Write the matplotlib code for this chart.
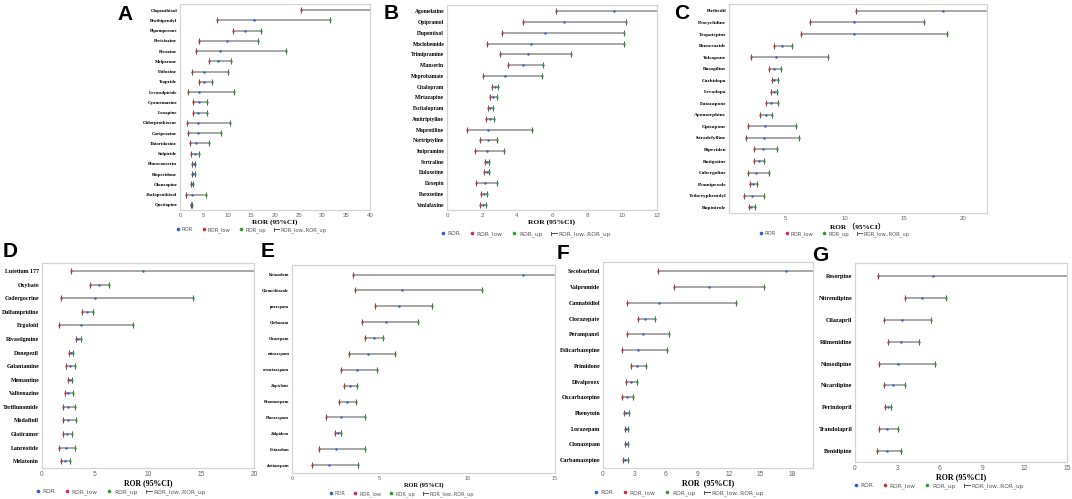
import matplotlib.pyplot as plt
from matplotlib.lines import Line2D
from matplotlib.legend_handler import HandlerBase

# ---- data ----
a_drugs = ['Clopenthixol', 'Prothipendyl', 'Pipamperone', 'Periciazine', 'Perazine', 'Melperone',
           'Etifoxine', 'Tiapride', 'Levosulpiride', 'Cyamemazine', 'Loxapine', 'Chlorprothixene',
           'Cariprazine', 'Thioridazine', 'Sulpiride', 'Pimavanserin', 'Risperidone', 'Olanzapine',
           'Zuclopenthixol', 'Quetiapine']
a_ror = [45, 15.6, 13.7, 9.8, 8.4, 8.1, 5.1, 5.0, 4.1, 3.9, 3.8, 3.7, 3.7, 3.4, 3.2, 2.9, 2.8, 2.5, 2.5, 2.4]
a_low = [25.4, 7.8, 11.1, 3.9, 3.3, 6.1, 2.6, 3.9, 1.6, 2.7, 2.7, 1.4, 1.7, 2.0, 2.3, 2.6, 2.5, 2.3, 1.3, 2.25]
a_up = [90, 31.5, 17.0, 16.4, 22.3, 10.8, 10.2, 6.7, 11.4, 5.7, 5.6, 10.5, 8.7, 6.0, 4.1, 3.2, 3.1, 2.8, 5.4, 2.6]

b_drugs = ['Agomelatine', 'Opipramol', 'Flupentixol', 'Moclobemide', 'Trimipramine', 'Mianserin',
           'Meprobamate', 'Citalopram', 'Mirtazapine', 'Escitalopram', 'Amitriptyline', 'Maprotiline',
           'Nortriptyline', 'Imipramine', 'Sertraline', 'Duloxetine', 'Doxepin', 'Paroxetine', 'Venlafaxine']
b_ror = [9.52, 6.67, 5.6, 4.82, 4.6, 4.36, 3.33, 2.72, 2.63, 2.48, 2.44, 2.34, 2.32, 2.3, 2.29, 2.27, 2.19, 2.1, 2.06]
b_low = [6.23, 4.34, 3.12, 2.29, 3.0, 3.49, 2.08, 2.55, 2.44, 2.32, 2.23, 1.14, 1.9, 1.62, 2.19, 2.1, 1.68, 1.92, 1.89]
b_up = [14.5, 10.25, 10.1, 10.1, 7.09, 5.47, 5.45, 2.93, 2.86, 2.65, 2.67, 4.86, 2.84, 3.24, 2.4, 2.38, 2.86, 2.27, 2.23]

c_drugs = ['Piribedil', 'Procyclidine', 'Tropatepine', 'Benserazide', 'Tolcapone', 'Rasagiline',
           'Carbidopa', 'Levodopa', 'Entacapone', 'Apomorphine', 'Opicapone', 'Istradefylline',
           'Biperiden', 'Rotigotine', 'Cabergoline', 'Pramipexole', 'Trihexyphenidyl', 'Ropinirole']
c_ror = [18.3, 10.8, 10.76, 4.66, 4.16, 4.04, 4.04, 4.02, 3.79, 3.29, 3.26, 3.12, 3.09, 2.7, 2.47, 2.22, 2.13, 2.1]
c_low = [10.9, 7.05, 6.3, 3.99, 2.02, 3.54, 3.82, 3.79, 3.34, 2.84, 1.83, 1.6, 2.28, 2.28, 1.77, 2.0, 1.49, 1.88]
c_up = [30, 16.7, 18.6, 5.5, 8.57, 4.63, 4.3, 4.27, 4.3, 3.82, 5.84, 6.15, 4.27, 3.12, 3.54, 2.53, 3.12, 2.39]

d_drugs = ['Lutetium 177', 'Oxybate', 'Codergocrine', 'Dalfampridine', 'Ergoloid', 'Rivastigmine',
           'Donepezil', 'Galantamine', 'Memantine', 'Valbenazine', 'Teriflunomide', 'Modafinil',
           'Glatiramer', 'Lanreotide', 'Melatonin']
d_ror = [9.54, 5.35, 5.0, 4.28, 3.69, 3.43, 2.71, 2.65, 2.65, 2.49, 2.49, 2.46, 2.39, 2.27, 2.2]
d_low = [2.7, 4.57, 1.76, 3.81, 1.6, 3.21, 2.55, 2.27, 2.46, 2.14, 2.02, 1.95, 2.02, 1.64, 1.83]
d_up = [30, 6.3, 14.27, 4.82, 8.54, 3.69, 2.9, 3.15, 2.83, 2.9, 3.09, 3.18, 2.8, 3.15, 2.68]

e_drugs = ['Ketazolam', 'Clomethiazole', 'prazepam', 'Clobazam', 'Oxazepam', 'nitrazepam',
           'ormetazepam', 'Zopiclone', 'Bromazepam', 'Flurazepam', 'Zolpidem', 'Estazolam', 'clotiazepam']
e_ror = [13.16, 6.27, 6.13, 5.35, 4.65, 4.34, 3.71, 3.3, 3.12, 2.82, 2.63, 2.5, 2.1]
e_low = [3.49, 3.62, 4.74, 4.0, 4.17, 3.24, 2.82, 2.99, 2.69, 1.94, 2.46, 1.52, 1.16]
e_up = [25, 10.86, 8.0, 7.16, 5.2, 5.85, 4.86, 3.68, 3.66, 4.15, 2.8, 4.19, 3.77]

f_drugs = ['Secobarbital', 'Valpromide', 'Cannabidiol', 'Clorazepate', 'Perampanel', 'Eslicarbazepine',
           'Primidone', 'Divalproex', 'Oxcarbazepine', 'Phenytoin', 'Lorazepam', 'Clonazepam', 'Carbamazepine']
f_ror = [17.43, 10.13, 5.37, 4.03, 3.78, 3.3, 3.27, 2.63, 2.29, 2.22, 2.22, 2.19, 2.1]
f_low = [5.27, 6.73, 2.32, 3.33, 2.32, 1.81, 2.63, 2.22, 1.84, 2.0, 2.1, 2.06, 1.9]
f_up = [40, 15.33, 12.67, 4.92, 6.32, 6.1, 4.06, 3.21, 2.83, 2.48, 2.38, 2.38, 2.38]

g_drugs = ['Reserpine', 'Nitrendipine', 'Cilazapril', 'Rilmenidine', 'Nimodipine', 'Nicardipine',
           'Perindopril', 'Trandolapril', 'Benidipine']
g_ror = [5.53, 4.76, 3.34, 3.25, 3.06, 2.66, 2.31, 2.26, 2.26]
g_low = [1.65, 3.56, 2.07, 2.35, 1.67, 2.02, 2.12, 1.72, 1.58]
g_up = [20, 6.43, 5.39, 4.54, 5.63, 3.51, 2.54, 3.04, 3.27]

W, H = 1072, 499
fig = plt.figure(figsize=(W / 100, H / 100), dpi=100)

C_ROR = '#2f5fd0'
C_LOW = '#d0303a'
C_UP = '#2ca02c'
SERIF = 'Liberation Serif'
SANS = 'Liberation Sans'


class RangeHandler(HandlerBase):
    # legend key "|----" for the low..up range
    def create_artists(self, legend, orig, xd, yd, width, height, fontsize, trans):
        x0, x1 = -xd, -xd + width
        ym = -yd + height / 2
        line = Line2D([x0, x1], [ym, ym], color='#555555', lw=0.7, transform=trans)
        cap = Line2D([x0, x0], [ym - height * 0.35, ym + height * 0.35], color='#555555',
                     lw=0.7, transform=trans)
        return [line, cap]


def px_axes(x0, y0, x1, y1):
    return fig.add_axes([x0 / W, 1 - y1 / H, (x1 - x0) / W, (y1 - y0) / H])


def forest(box, drugs, ror, low, up, xlim, xticks, lab_fs, tick_fs, xlabel, xl_fs,
           leg_xy, leg_fs, letter, letter_xy):
    ax = px_axes(*box)
    y = list(range(len(drugs)))
    ax.hlines(y, low, up, color='#8f8f8f', lw=1.1, zorder=1)
    ax.plot(low, y, '|', color='#555555', ms=4, mew=0.7, zorder=2)
    ax.plot(up, y, '|', color='#555555', ms=4, mew=0.7, zorder=2)
    ax.scatter(low, y, s=3, color=C_LOW, zorder=3, linewidths=0)
    ax.scatter(up, y, s=3, color=C_UP, zorder=3, linewidths=0)
    ax.scatter(ror, y, s=3, color=C_ROR, zorder=3, linewidths=0)

    ax.set_xlim(*xlim)
    ax.set_ylim(len(drugs) - 0.5, -0.6)
    ax.set_xticks(xticks)
    ax.set_yticks(y)
    ax.set_yticklabels(drugs, fontfamily=SERIF, fontweight='bold', fontsize=lab_fs)
    ax.tick_params(axis='y', length=0, pad=2)
    ax.tick_params(axis='x', length=0, pad=2, labelsize=tick_fs, labelcolor='#666666')
    for lbl in ax.get_xticklabels():
        lbl.set_fontfamily(SANS)
    for s in ax.spines.values():
        s.set_color('#d4d4d4')
        s.set_linewidth(0.9)
    ax.set_xlabel(xlabel, fontsize=xl_fs, fontweight='bold',
                  fontfamily=[SERIF, 'Noto Sans CJK SC'], labelpad=1)

    rng = Line2D([], [], color='#555555')
    handles = [
        Line2D([], [], ls='none', marker='o', ms=1.6, color=C_ROR),
        Line2D([], [], ls='none', marker='o', ms=1.6, color=C_LOW),
        Line2D([], [], ls='none', marker='o', ms=1.6, color=C_UP),
        rng,
    ]
    ax.legend(handles, ['ROR', 'ROR_low', 'ROR_up', 'ROR_low..ROR_up'],
              handler_map={rng: RangeHandler()},
              loc='center left', bbox_to_anchor=(leg_xy[0] / W, 1 - leg_xy[1] / H),
              bbox_transform=fig.transFigure, ncol=4, frameon=False, fontsize=leg_fs,
              handlelength=1.0, handletextpad=0.3, columnspacing=1.5, labelcolor='#555555',
              borderpad=0, borderaxespad=0)

    fig.text(letter_xy[0] / W, 1 - letter_xy[1] / H, letter, fontsize=15, fontweight='bold',
             fontfamily=SANS, ha='left', va='top')
    return ax


forest((180, 4, 370, 210), a_drugs, a_ror, a_low, a_up, (0, 40), range(0, 41, 5),
       3.5, 4.3, 'ROR (95%CI)', 5.2, (175, 230), 3.8, 'A', (117, 5))
forest((447, 5, 657, 210), b_drugs, b_ror, b_low, b_up, (0, 12), range(0, 13, 2),
       4.0, 4.5, 'ROR (95%CI)', 5.4, (440, 234), 4.2, 'B', (384, 4))
forest((729, 4, 987, 213), c_drugs, c_ror, c_low, c_up, (0.2, 22), [5, 10, 15, 20],
       3.8, 4.3, 'ROR \uff0895%CI\uff09', 5.2, (758, 234), 3.8, 'C', (674, 4))
forest((42, 263, 254, 468), d_drugs, d_ror, d_low, d_up, (0, 20), [0, 5, 10, 15, 20],
       4.2, 4.8, 'ROR (95%CI)', 5.6, (35, 492), 4.2, 'D', (3, 242))
forest((292, 265, 555, 473), e_drugs, e_ror, e_low, e_up, (0, 15), [0, 5, 10, 15],
       3.2, 4.0, 'ROR (95%CI)', 4.6, (328, 494), 3.6, 'E', (261, 242))
forest((603, 262, 813, 468), f_drugs, f_ror, f_low, f_up, (0, 20), range(0, 19, 3),
       4.3, 4.8, 'ROR  (95%CI)', 5.8, (593, 493), 4.2, 'F', (557, 244))
forest((855, 263, 1067, 462), g_drugs, g_ror, g_low, g_up, (0, 15), range(0, 16, 3),
       4.4, 4.8, 'ROR (95%CI)', 5.8, (853, 486), 4.2, 'G', (812, 246))

fig.savefig('out.png', dpi=100)
